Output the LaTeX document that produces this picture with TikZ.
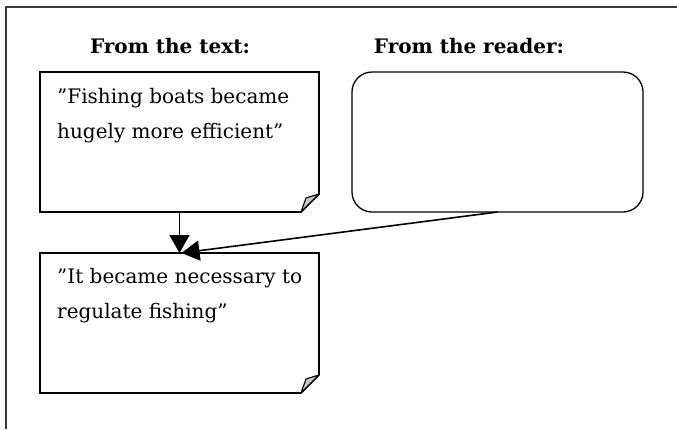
\documentclass[tikz,border=0pt]{standalone}
\usepackage{fontspec}
\setmainfont{DejaVu Serif}
\usetikzlibrary{arrows.meta}
\begin{document}
\begin{tikzpicture}[x=1pt,y=-1pt,
  note/.style={minimum width=279pt, minimum height=140pt, anchor=north west, inner sep=0pt, outer sep=0pt},
  outline/.style={line width=1.6pt, line join=miter},
  fold/.style={fill=black!22, line width=1.1pt, line join=round},
  txt/.style={anchor=base west, align=left, font=\fontsize{20}{35}\selectfont, inner sep=0pt},
  head/.style={anchor=base, font=\fontsize{20}{24}\selectfont\bfseries, inner sep=0pt},
  conn/.style={line width=1.6pt, -{Triangle[length=18pt,width=20pt]}}]
\useasboundingbox (0,0) rectangle (677,429);
% frame
\draw[line width=2pt, black!78] (6,429) -- (6,7) -- (677,7);
% headings
\node[head] (h1) at (170,53) {From the text:};
\node[head] (h2) at (469,53) {From the reader:};
% note 1
\node[note] (t1) at (40,72) {};
\draw[outline] (t1.north west) -- (t1.north east) -- ([yshift=18pt]t1.south east) -- ([xshift=-18pt]t1.south east) -- (t1.south west) -- cycle;
\draw[fold] ([xshift=-18pt]t1.south east) -- ([yshift=18pt]t1.south east) .. controls ([xshift=-10pt,yshift=15pt]t1.south east) .. ([xshift=-13pt,yshift=14pt]t1.south east) -- cycle;
\node[txt] (x1) at (57,138) {"Fishing boats became\\hugely more efficient"};
% note 3
\node[note] (t3) at (40,253) {};
\draw[outline] (t3.north west) -- (t3.north east) -- ([yshift=18pt]t3.south east) -- ([xshift=-18pt]t3.south east) -- (t3.south west) -- cycle;
\draw[fold] ([xshift=-18pt]t3.south east) -- ([yshift=18pt]t3.south east) .. controls ([xshift=-10pt,yshift=15pt]t3.south east) .. ([xshift=-13pt,yshift=14pt]t3.south east) -- cycle;
\node[txt] (x3) at (57,318) {"It became necessary to\\regulate fishing"};
% reader box
\node[draw, rounded corners=20pt, line width=1.3pt, minimum width=291pt, minimum height=140pt, anchor=north west, inner sep=0pt, outer sep=0pt] (r) at (352,72) {};
% connectors
\draw[conn] (t1.south) -- (t3.north);
\draw[conn] (r.south) -- ([xshift=2pt]t3.north);
\end{tikzpicture}
\end{document}
